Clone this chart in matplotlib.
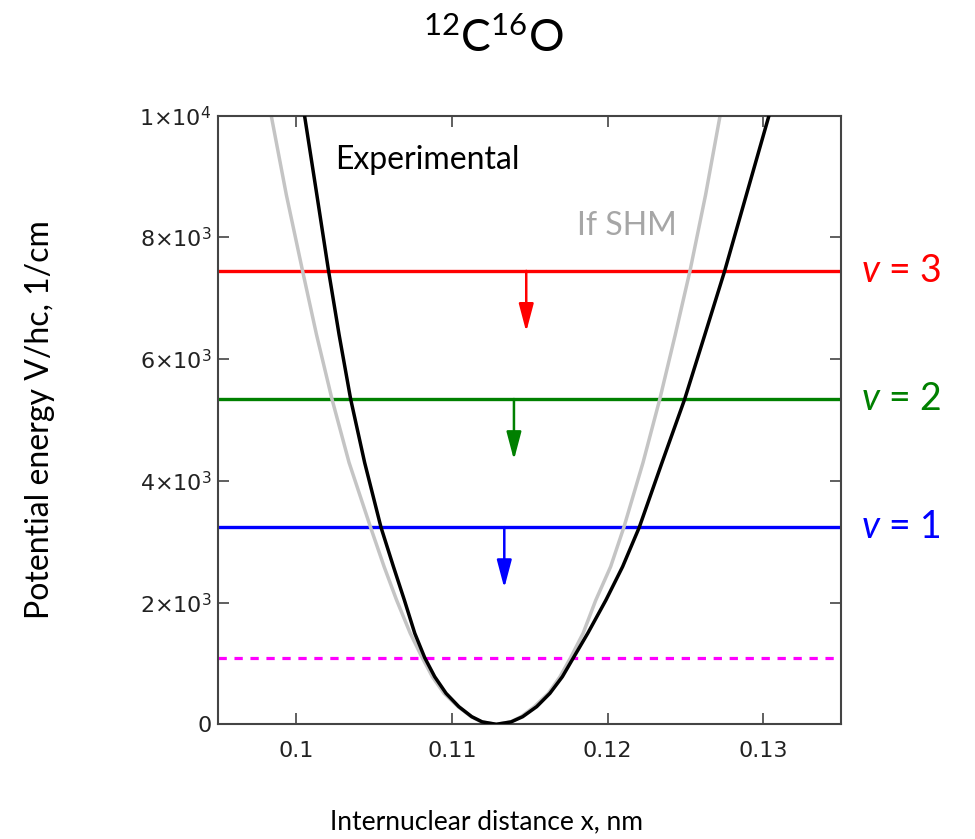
import numpy as np
import matplotlib
matplotlib.use('Agg')
from matplotlib import pyplot as plt

plt.rcParams['mathtext.fontset'] = 'custom'
plt.rcParams['mathtext.rm'] = 'DejaVu Sans'
plt.rcParams['mathtext.sf'] = 'Lato'
plt.rcParams['mathtext.it'] = 'Lato:italic'

# curves: x in nm, V/hc in 1/cm
exp_x = [0.10054, 0.10133, 0.10208, 0.10276, 0.10350, 0.10440, 0.10545, 0.10625,
         0.10695, 0.10762, 0.10826, 0.10890, 0.10963, 0.11045, 0.11128, 0.11195,
         0.11286,
         0.11381, 0.11455, 0.11545, 0.11630, 0.11710, 0.11781, 0.11873, 0.11990,
         0.12097, 0.12204, 0.12350, 0.12496, 0.12625, 0.12753, 0.12892, 0.13037]
exp_v = [10000, 8700, 7453, 6400, 5345, 4300, 3237, 2590,
         2042, 1495, 1094, 782, 509, 290, 125, 40,
         0,
         40, 125, 290, 509, 782, 1094, 1495, 2042,
         2590, 3237, 4300, 5345, 6400, 7453, 8700, 10000]

shm_x = [0.09840, 0.09937, 0.10041, 0.10131, 0.10230, 0.10340, 0.10478, 0.10565,
         0.10645, 0.10733, 0.10810, 0.10875, 0.10950, 0.11040, 0.11125, 0.11190,
         0.11284,
         0.11378, 0.11445, 0.11530, 0.11620, 0.11695, 0.11763, 0.11843, 0.11925,
         0.12020, 0.12105, 0.12228, 0.12336, 0.12435, 0.12530, 0.12630, 0.12723]
shm_v = exp_v

zero_point = 1090
levels = [3240, 5345, 7450]
level_names = ['1', '2', '3']
level_colors = ['#0000ff', '#008000', '#ff0000']
arrow_x = [0.11337, 0.11399, 0.11478]
arrow_drop = 1000

yticks = [0, 2000, 4000, 6000, 8000, 10000]
ytick_labels = ['0', r'$2{\times}10^{3}$', r'$4{\times}10^{3}$', r'$6{\times}10^{3}$',
                r'$8{\times}10^{3}$', r'$1{\times}10^{4}$']
xticks = [0.10, 0.11, 0.12, 0.13]
xtick_labels = ['0.1', '0.11', '0.12', '0.13']

fig = plt.figure(figsize=(9.75, 8.39), dpi=100)
ax = fig.add_axes([0.2239, 0.1367, 0.6387, 0.7254])

ax.plot(shm_x, shm_v, color='#c4c4c4', lw=2.5, zorder=2)
ax.plot(exp_x, exp_v, color='black', lw=2.5, zorder=3)

ax.axhline(zero_point, color='#ff00ff', lw=2.3, dashes=(2.6, 2.4), zorder=1)
for lev, name, col, ax_x in zip(levels, level_names, level_colors, arrow_x):
    ax.axhline(lev, color=col, lw=2.4, zorder=1)
    ax.annotate('', xy=(ax_x, lev - arrow_drop), xytext=(ax_x, lev),
                arrowprops=dict(arrowstyle='-|>,head_length=1.7,head_width=0.45',
                                color=col, lw=1.8, shrinkA=0, shrinkB=0))
    ax.text(1.032, lev, '$v$ = ' + name, transform=ax.get_yaxis_transform(),
            color=col, fontsize=27, family='Lato', va='center', ha='left')

ax.text(0.10248, 9272, 'Experimental', fontsize=23, family='Lato', va='center')
ax.text(0.11805, 8185, 'If SHM', fontsize=23, family='Lato', color='#a6a6a6', va='center')

ax.set_xlim(0.095, 0.135)
ax.set_ylim(0, 10000)
ax.set_xticks(xticks)
ax.set_xticklabels(xtick_labels)
ax.set_yticks(yticks)
ax.set_yticklabels(ytick_labels)
ax.tick_params(direction='in', length=8, width=1.2, top=True, right=True,
               labelsize=16, colors='#444444', labelcolor='#222222', pad=5)
ax.tick_params(axis='x', pad=12)
for s in ax.spines.values():
    s.set_linewidth(1.5)
    s.set_color('#444444')

fig.text(486 / 975, 1 - 822 / 839, 'Internuclear distance x, nm', fontsize=19,
         family='Lato', ha='center', va='center')
fig.text(40 / 975, 1 - 420 / 839, 'Potential energy V/hc, 1/cm', fontsize=23,
         family='Lato', ha='center', va='center', rotation=90)
fig.text(493 / 975, 1 - 40 / 839, r'$\mathsf{{}^{12}C^{16}O}$', fontsize=32,
         ha='center', va='center')

fig.savefig('out.png', dpi=100)
